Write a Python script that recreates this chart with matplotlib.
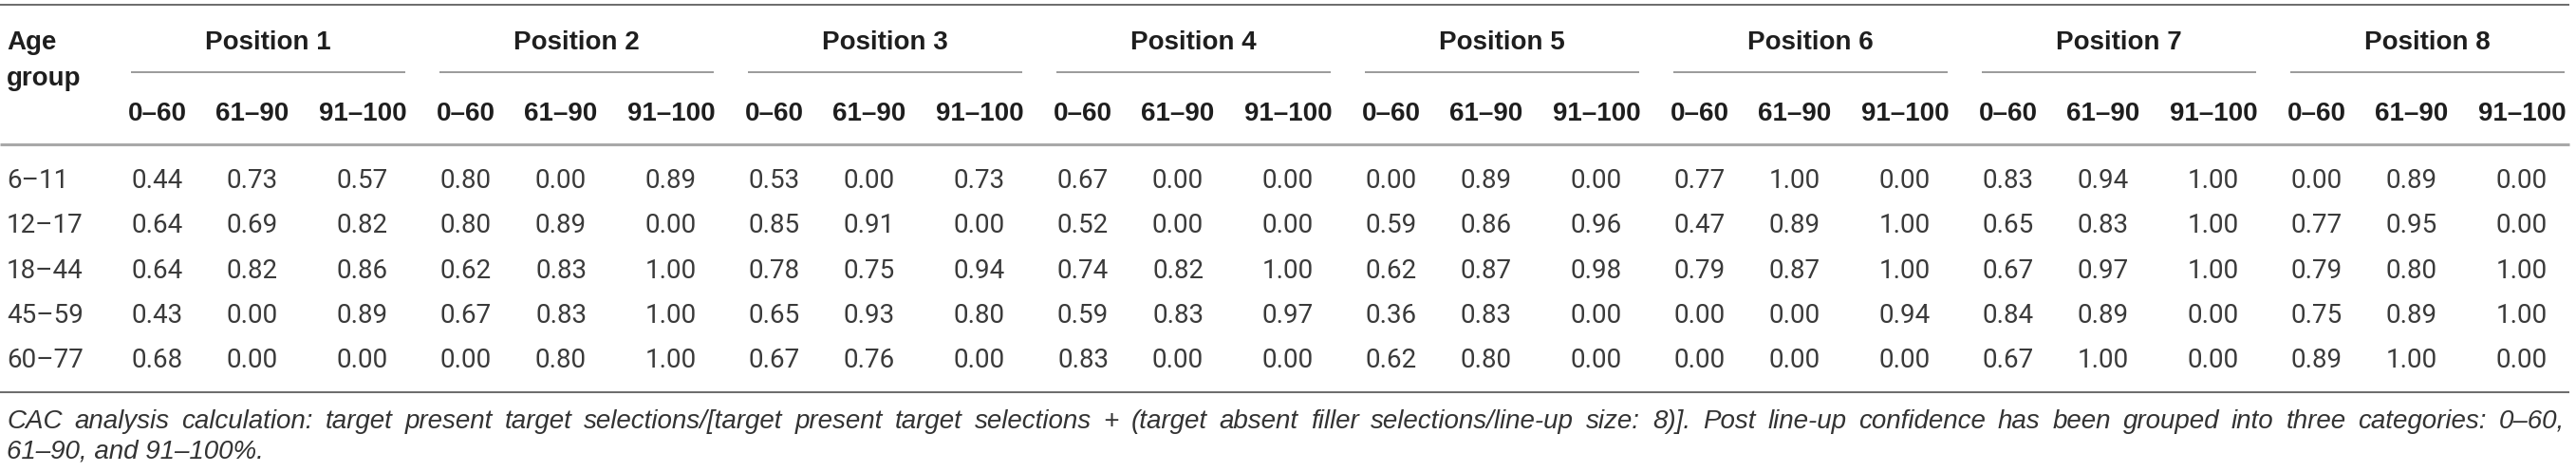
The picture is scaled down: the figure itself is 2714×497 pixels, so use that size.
import matplotlib
matplotlib.use("Agg")
import matplotlib.pyplot as plt

# table content
age_groups = ["6\u201311", "12\u201317", "18\u201344", "45\u201359", "60\u201377"]
positions = ["Position %d" % i for i in range(1, 9)]
bands = ["0\u201360", "61\u201390", "91\u2013100"]

# CAC values, 3 confidence bands per position, positions 1..8
vals_6_11 = [0.44, 0.73, 0.57, 0.80, 0.00, 0.89, 0.53, 0.00, 0.73, 0.67, 0.00, 0.00,
             0.00, 0.89, 0.00, 0.77, 1.00, 0.00, 0.83, 0.94, 1.00, 0.00, 0.89, 0.00]
vals_12_17 = [0.64, 0.69, 0.82, 0.80, 0.89, 0.00, 0.85, 0.91, 0.00, 0.52, 0.00, 0.00,
              0.59, 0.86, 0.96, 0.47, 0.89, 1.00, 0.65, 0.83, 1.00, 0.77, 0.95, 0.00]
vals_18_44 = [0.64, 0.82, 0.86, 0.62, 0.83, 1.00, 0.78, 0.75, 0.94, 0.74, 0.82, 1.00,
              0.62, 0.87, 0.98, 0.79, 0.87, 1.00, 0.67, 0.97, 1.00, 0.79, 0.80, 1.00]
vals_45_59 = [0.43, 0.00, 0.89, 0.67, 0.83, 1.00, 0.65, 0.93, 0.80, 0.59, 0.83, 0.97,
              0.36, 0.83, 0.00, 0.00, 0.00, 0.94, 0.84, 0.89, 0.00, 0.75, 0.89, 1.00]
vals_60_77 = [0.68, 0.00, 0.00, 0.00, 0.80, 1.00, 0.67, 0.76, 0.00, 0.83, 0.00, 0.00,
              0.62, 0.80, 0.00, 0.00, 0.00, 0.00, 0.67, 1.00, 0.00, 0.89, 1.00, 0.00]
rows = [vals_6_11, vals_12_17, vals_18_44, vals_45_59, vals_60_77]

note1 = ("CAC analysis calculation: target present target selections/[target present target "
         "selections + (target absent filler selections/line-up size: 8)]. Post line-up confidence "
         "has been grouped into three categories: 0\u201360,")
note2 = "61\u201390, and 91\u2013100%."

W, H = 2714, 497
fig = plt.figure(figsize=(W / 100, H / 100), dpi=100)
ax = fig.add_axes([0, 0, 1, 1])
ax.set_xlim(0, W)
ax.set_ylim(H, 0)
ax.axis("off")

head_font = dict(family="Liberation Sans", weight="bold", size=20, color="#1e1e1e")
body_font = dict(family="Roboto", weight="normal", size=20, color="#3a3a3a")

x0 = 166          # first band column centre
step = 325        # width of one position group
offs = [0, 100, 216]

# rules
ax.plot([0, 2707], [5, 5], color="#6a6a6a", lw=1.4, solid_capstyle="butt")
ax.plot([0, 2707], [152, 152], color="#a8a8a8", lw=2.2, solid_capstyle="butt")
ax.plot([0, 2707], [413, 413], color="#6a6a6a", lw=1.4, solid_capstyle="butt")

# header
ax.text(7, 52, "Age", ha="left", va="baseline", **head_font)
ax.text(7, 90, "group", ha="left", va="baseline", **head_font)
for g, name in enumerate(positions):
    base = x0 + g * step
    ax.text(base + 116, 52, name, ha="center", va="baseline", **head_font)
    ax.plot([base - 28, base + 261], [76, 76], color="#9a9a9a", lw=1.4,
            solid_capstyle="butt")
    for k, b in enumerate(bands):
        ax.text(base + offs[k], 127, b, ha="center", va="baseline", **head_font)

# body
row_base = [198, 245, 293, 340, 387]
for r, (ag, vals) in enumerate(zip(age_groups, rows)):
    y = row_base[r]
    ax.text(7, y, ag, ha="left", va="baseline", **body_font)
    for i, v in enumerate(vals):
        g, k = divmod(i, 3)
        ax.text(x0 + g * step + offs[k], y, "%.2f" % v, ha="center", va="baseline",
                **body_font)

# footnote, first line justified to the table width
foot_font = dict(family="Liberation Sans", style="italic", size=20, color="#333333")
fig.canvas.draw()
rend = fig.canvas.get_renderer()
words = note1.split(" ")
txts = [ax.text(0, 451, w, ha="left", va="baseline", **foot_font) for w in words]
widths = [t.get_window_extent(rend).width for t in txts]
left, right = 7, 2702
gap = (right - left - sum(widths)) / (len(words) - 1)
xpos = left
for t, wd in zip(txts, widths):
    t.set_x(xpos)
    xpos += wd + gap
ax.text(7, 482, note2, ha="left", va="baseline", **foot_font)

fig.savefig("out.png", dpi=100)
